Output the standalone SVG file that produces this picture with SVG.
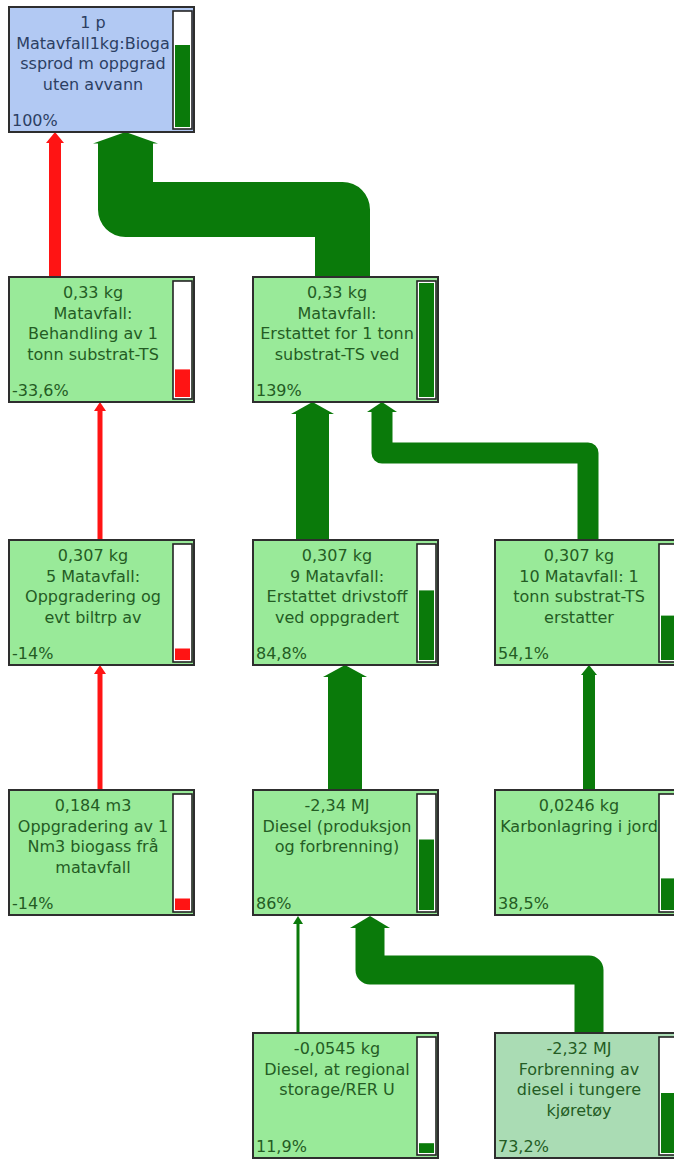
<svg xmlns="http://www.w3.org/2000/svg" width="674" height="1159" viewBox="0 0 674 1159">
  <defs>
    <style>
      .node { stroke: #2e2e2e; stroke-width: 2; }
      .proc { fill: #99ea99; }
      .root { fill: #b2c9f3; }
      .alt  { fill: #aadcb4; }
      .bar  { fill: #ffffff; stroke: #242424; stroke-width: 1.6; }
      .pos  { fill: #0a7a0a; }
      .neg  { fill: #ff1414; }
      .lbl  { font-family: "DejaVu Sans", Verdana, sans-serif; font-size: 16px; fill: #245c24; text-anchor: middle; }
      .pct  { font-family: "DejaVu Sans", Verdana, sans-serif; font-size: 16px; fill: #245c24; }
      .root-t { fill: #2c3f63; }
      .flow { fill: none; stroke-linejoin: round; stroke-linecap: butt; }
      .g { stroke: #0a7a0a; }
      .r { stroke: #ff1414; }
      .gh { fill: #0a7a0a; }
      .rh { fill: #ff1414; }
    </style>
  </defs>
  <rect width="674" height="1159" fill="#ffffff"/>

  <!-- flows, drawn beneath the process boxes -->
  <g id="connectors">
    <!-- Matavfall: Behandling -> root -->
    <path class="flow r" stroke-width="12" d="M55,278 V142"/>
    <polygon class="rh" points="46,143 64,143 55,132"/>
    <!-- Matavfall: Erstattet -> root -->
    <path class="flow g" stroke-width="55" d="M342.5,278 V209.5 H125.5 V143"/>
    <polygon class="gh" points="93,143.5 158,143.5 125.5,132"/>
    <!-- 5 Matavfall -> Behandling -->
    <path class="flow r" stroke-width="5" d="M100,541 V410"/>
    <polygon class="rh" points="94,411 106,411 100,402"/>
    <!-- 9 Matavfall -> Erstattet -->
    <path class="flow g" stroke-width="33" d="M312.5,541 V413"/>
    <polygon class="gh" points="291,414 334,414 312.5,402"/>
    <!-- 10 Matavfall -> Erstattet -->
    <path class="flow g" stroke-width="21" d="M588,541 V453 H382 V411"/>
    <polygon class="gh" points="367,412 397,412 382,402"/>
    <!-- Oppgradering -> 5 Matavfall -->
    <path class="flow r" stroke-width="5" d="M100,791 V673"/>
    <polygon class="rh" points="94,674 106,674 100,665"/>
    <!-- Diesel -> 9 Matavfall -->
    <path class="flow g" stroke-width="34" d="M345,791 V676"/>
    <polygon class="gh" points="323,677 367,677 345,665"/>
    <!-- Karbonlagring -> 10 Matavfall -->
    <path class="flow g" stroke-width="12" d="M589,791 V674"/>
    <polygon class="gh" points="581,675 597,675 589,665"/>
    <!-- Diesel, at regional storage -> Diesel -->
    <path class="flow g" stroke-width="3" d="M298,1034 V923"/>
    <polygon class="gh" points="293,924 303,924 298,916"/>
    <!-- Forbrenning -> Diesel -->
    <path class="flow g" stroke-width="29" d="M589,1034 V970 H370 V927"/>
    <polygon class="gh" points="350,928 390,928 370,916"/>
  </g>

  <!-- root process -->
  <g id="n-root" transform="translate(9,7)">
    <rect class="node root" x="0" y="0" width="185" height="125"/>
    <text class="lbl root-t" x="84" y="21">1 p</text>
    <text class="lbl root-t" x="84" y="41.5">Matavfall1kg:Bioga</text>
    <text class="lbl root-t" x="84" y="62">ssprod m oppgrad</text>
    <text class="lbl root-t" x="84" y="82.5">uten avvann</text>
    <text class="pct root-t" x="3" y="119">100%</text>
    <rect class="bar" x="164" y="4" width="19" height="118"/>
    <rect class="pos" x="166" y="38" width="15" height="82"/>
  </g>

  <g id="n-behandling" transform="translate(9,277)">
    <rect class="node proc" x="0" y="0" width="185" height="125"/>
    <text class="lbl" x="84" y="21">0,33 kg</text>
    <text class="lbl" x="84" y="41.5">Matavfall:</text>
    <text class="lbl" x="84" y="62">Behandling av 1</text>
    <text class="lbl" x="84" y="82.5">tonn substrat-TS</text>
    <text class="pct" x="3" y="119">-33,6%</text>
    <rect class="bar" x="164" y="4" width="19" height="118"/>
    <rect class="neg" x="166" y="92.4" width="15" height="27.6"/>
  </g>

  <g id="n-erstattet" transform="translate(253,277)">
    <rect class="node proc" x="0" y="0" width="185" height="125"/>
    <text class="lbl" x="84" y="21">0,33 kg</text>
    <text class="lbl" x="84" y="41.5">Matavfall:</text>
    <text class="lbl" x="84" y="62">Erstattet for 1 tonn</text>
    <text class="lbl" x="84" y="82.5">substrat-TS ved</text>
    <text class="pct" x="3" y="119">139%</text>
    <rect class="bar" x="164" y="4" width="19" height="118"/>
    <rect class="pos" x="166" y="6" width="15" height="114"/>
  </g>

  <g id="n-oppgradering-biltrp" transform="translate(9,540)">
    <rect class="node proc" x="0" y="0" width="185" height="125"/>
    <text class="lbl" x="84" y="21">0,307 kg</text>
    <text class="lbl" x="84" y="41.5">5 Matavfall:</text>
    <text class="lbl" x="84" y="62">Oppgradering og</text>
    <text class="lbl" x="84" y="82.5">evt biltrp av</text>
    <text class="pct" x="3" y="119">-14%</text>
    <rect class="bar" x="164" y="4" width="19" height="118"/>
    <rect class="neg" x="166" y="108.5" width="15" height="11.5"/>
  </g>

  <g id="n-drivstoff" transform="translate(253,540)">
    <rect class="node proc" x="0" y="0" width="185" height="125"/>
    <text class="lbl" x="84" y="21">0,307 kg</text>
    <text class="lbl" x="84" y="41.5">9 Matavfall:</text>
    <text class="lbl" x="84" y="62">Erstattet drivstoff</text>
    <text class="lbl" x="84" y="82.5">ved oppgradert</text>
    <text class="pct" x="3" y="119">84,8%</text>
    <rect class="bar" x="164" y="4" width="19" height="118"/>
    <rect class="pos" x="166" y="50.4" width="15" height="69.6"/>
  </g>

  <g id="n-substrat-erstatter" transform="translate(495,540)">
    <rect class="node proc" x="0" y="0" width="185" height="125"/>
    <text class="lbl" x="84" y="21">0,307 kg</text>
    <text class="lbl" x="84" y="41.5">10 Matavfall: 1</text>
    <text class="lbl" x="84" y="62">tonn substrat-TS</text>
    <text class="lbl" x="84" y="82.5">erstatter</text>
    <text class="pct" x="3" y="119">54,1%</text>
    <rect class="bar" x="164" y="4" width="19" height="118"/>
    <rect class="pos" x="166" y="75.6" width="15" height="44.4"/>
  </g>

  <g id="n-oppgradering-nm3" transform="translate(9,790)">
    <rect class="node proc" x="0" y="0" width="185" height="125"/>
    <text class="lbl" x="84" y="21">0,184 m3</text>
    <text class="lbl" x="84" y="41.5">Oppgradering av 1</text>
    <text class="lbl" x="84" y="62">Nm3 biogass frå</text>
    <text class="lbl" x="84" y="82.5">matavfall</text>
    <text class="pct" x="3" y="119">-14%</text>
    <rect class="bar" x="164" y="4" width="19" height="118"/>
    <rect class="neg" x="166" y="108.5" width="15" height="11.5"/>
  </g>

  <g id="n-diesel" transform="translate(253,790)">
    <rect class="node proc" x="0" y="0" width="185" height="125"/>
    <text class="lbl" x="84" y="21">-2,34 MJ</text>
    <text class="lbl" x="84" y="41.5">Diesel (produksjon</text>
    <text class="lbl" x="84" y="62">og forbrenning)</text>
    <text class="pct" x="3" y="119">86%</text>
    <rect class="bar" x="164" y="4" width="19" height="118"/>
    <rect class="pos" x="166" y="49.5" width="15" height="70.5"/>
  </g>

  <g id="n-karbonlagring" transform="translate(495,790)">
    <rect class="node proc" x="0" y="0" width="185" height="125"/>
    <text class="lbl" x="84" y="21">0,0246 kg</text>
    <text class="lbl" x="84" y="41.5">Karbonlagring i jord</text>
    <text class="pct" x="3" y="119">38,5%</text>
    <rect class="bar" x="164" y="4" width="19" height="118"/>
    <rect class="pos" x="166" y="88.4" width="15" height="31.6"/>
  </g>

  <g id="n-diesel-storage" transform="translate(253,1033)">
    <rect class="node proc" x="0" y="0" width="185" height="125"/>
    <text class="lbl" x="84" y="21">-0,0545 kg</text>
    <text class="lbl" x="84" y="41.5">Diesel, at regional</text>
    <text class="lbl" x="84" y="62">storage/RER U</text>
    <text class="pct" x="3" y="119">11,9%</text>
    <rect class="bar" x="164" y="4" width="19" height="118"/>
    <rect class="pos" x="166" y="110.2" width="15" height="9.8"/>
  </g>

  <g id="n-forbrenning" transform="translate(495,1033)">
    <rect class="node alt" x="0" y="0" width="185" height="125"/>
    <text class="lbl" x="84" y="21">-2,32 MJ</text>
    <text class="lbl" x="84" y="41.5">Forbrenning av</text>
    <text class="lbl" x="84" y="62">diesel i tungere</text>
    <text class="lbl" x="84" y="82.5">kjøretøy</text>
    <text class="pct" x="3" y="119">73,2%</text>
    <rect class="bar" x="164" y="4" width="19" height="118"/>
    <rect class="pos" x="166" y="60" width="15" height="60"/>
  </g>
</svg>
